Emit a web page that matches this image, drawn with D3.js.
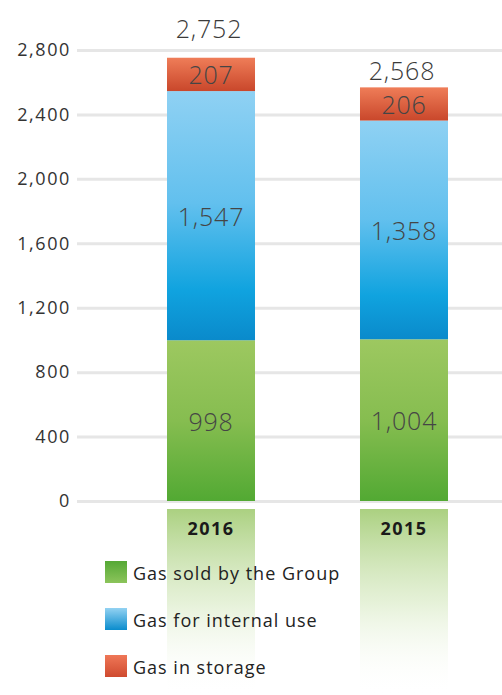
<!DOCTYPE html>
<html>
<head>
<meta charset="utf-8">
<script src="https://cdn.jsdelivr.net/npm/d3@7"></script>
<style>
  html, body { margin: 0; padding: 0; background: #fff; }
  svg { display: block; font-family: "Open Sans", sans-serif; }
</style>
</head>
<body>
<svg id="chart" width="502" height="695"></svg>
<script>
// ---- data ----
const categories = ["2016", "2015"];
const seriesNames = ["Gas sold by the Group", "Gas for internal use", "Gas in storage"];
const gasSold = [998, 1004];
const gasInternal = [1547, 1358];
const gasStorage = [207, 206];
const totals = [2752, 2568];
const yTicks = [0, 400, 800, 1200, 1600, 2000, 2400, 2800];

// ---- build table ----
const keys = ["sold", "internal", "storage"];
const table = categories.map((c, i) => ({
  cat: c, sold: gasSold[i], internal: gasInternal[i], storage: gasStorage[i], total: totals[i]
}));

const svg = d3.select("#chart");
const W = 502, H = 695;

const y = d3.scaleLinear().domain([0, 2800]).range([501, 50]);
const x = d3.scaleBand().domain(categories).range([167, 448]).paddingInner(0.544).paddingOuter(0);

const defs = svg.append("defs");
function vGrad(id, stops) {
  const g = defs.append("linearGradient").attr("id", id)
    .attr("x1", 0).attr("y1", 0).attr("x2", 0).attr("y2", 1);
  stops.forEach(s => g.append("stop").attr("offset", s[0]).attr("stop-color", s[1]).attr("stop-opacity", s[2] === undefined ? 1 : s[2]));
}
vGrad("g-sold", [[0, "#9dc860"], [0.5, "#86bd50"], [1, "#52a933"]]);
vGrad("g-internal", [[0, "#8fd1f3"], [0.45, "#62c0ee"], [0.8, "#10a3df"], [1, "#0a8acb"]]);
vGrad("g-storage", [[0, "#ef7d58"], [1, "#c9472b"]]);
vGrad("l-sold", [[0, "#55a835"], [1, "#8cc45b"]]);
vGrad("l-internal", [[0, "#93d2f2"], [1, "#0a8ccd"]]);
vGrad("l-storage", [[0, "#ef7757"], [1, "#cf4a2f"]]);
vGrad("g-refl", [[0, "#9cc86a", 0.85], [0.5, "#c6e0a8", 0.45], [1, "#ffffff", 0]]);

// ---- grid + y axis ----
const yAxis = d3.axisLeft(y).tickValues(yTicks).tickFormat(d3.format(",")).tickSize(-(W - 77)).tickPadding(6);
const gAxis = svg.append("g").attr("transform", "translate(77,0)").call(yAxis);
gAxis.select(".domain").remove();
gAxis.selectAll(".tick line").attr("stroke", "#e6e6e6").attr("stroke-width", 3);
gAxis.selectAll(".tick text")
  .attr("fill", "#333").attr("font-size", 18).attr("font-weight", 400)
  .attr("letter-spacing", 1.6).style("font-family", "'Open Sans', sans-serif");

// ---- reflections below axis ----
svg.append("g").selectAll("rect").data(table).join("rect")
  .attr("x", d => x(d.cat)).attr("width", x.bandwidth())
  .attr("y", 509).attr("height", H - 509)
  .attr("fill", "url(#g-refl)");

// ---- stacked bars ----
const stack = d3.stack().keys(keys)(table);
const gBars = svg.append("g");
stack.forEach(layer => {
  const k = layer.key;
  gBars.append("g").selectAll("rect").data(layer).join("rect")
    .attr("x", d => x(d.data.cat)).attr("width", x.bandwidth())
    .attr("y", d => y(d[1])).attr("height", d => y(d[0]) - y(d[1]))
    .attr("fill", `url(#g-${k})`);
  gBars.append("g").selectAll("text").data(layer).join("text")
    .attr("x", d => x(d.data.cat) + x.bandwidth() / 2)
    .attr("y", d => (y(d[0]) + y(d[1])) / 2)
    .attr("text-anchor", "middle").attr("dominant-baseline", "central")
    .attr("font-size", 25).attr("font-weight", 300).attr("letter-spacing", 0.8)
    .attr("fill", "#454545")
    .text(d => d3.format(",")(d.data[k]));
});

// ---- totals ----
const topGrid = y(2800);
svg.append("g").selectAll("text").data(table).join("text")
  .attr("x", d => x(d.cat) + x.bandwidth() / 2 - 2)
  .attr("y", d => {
    let ly = y(d.total) - 17;
    if (Math.abs(ly - topGrid) < 14) ly = topGrid - 22;
    return ly;
  })
  .attr("text-anchor", "middle").attr("dominant-baseline", "central")
  .attr("font-size", 25).attr("font-weight", 300).attr("letter-spacing", 0.8)
  .attr("fill", "#3a3a3a")
  .text(d => d3.format(",")(d.total));

// ---- category labels ----
svg.append("g").selectAll("text").data(categories).join("text")
  .attr("x", d => x(d) + x.bandwidth() / 2)
  .attr("y", 528)
  .attr("text-anchor", "middle").attr("dominant-baseline", "central")
  .attr("font-size", 18).attr("font-weight", 700).attr("letter-spacing", 1.5)
  .attr("fill", "#1a1a1a")
  .text(d => d);

// ---- legend ----
const legend = svg.append("g").selectAll("g").data(seriesNames).join("g")
  .attr("transform", (d, i) => `translate(105,${561 + i * 47})`);
legend.append("rect").attr("width", 22).attr("height", 22)
  .attr("fill", (d, i) => `url(#l-${keys[i]})`);
legend.append("text").attr("x", 28).attr("y", 12)
  .attr("dominant-baseline", "central")
  .attr("font-size", 18).attr("font-weight", 400).attr("letter-spacing", 1)
  .attr("fill", "#222")
  .text(d => d);
</script>
</body>
</html>
